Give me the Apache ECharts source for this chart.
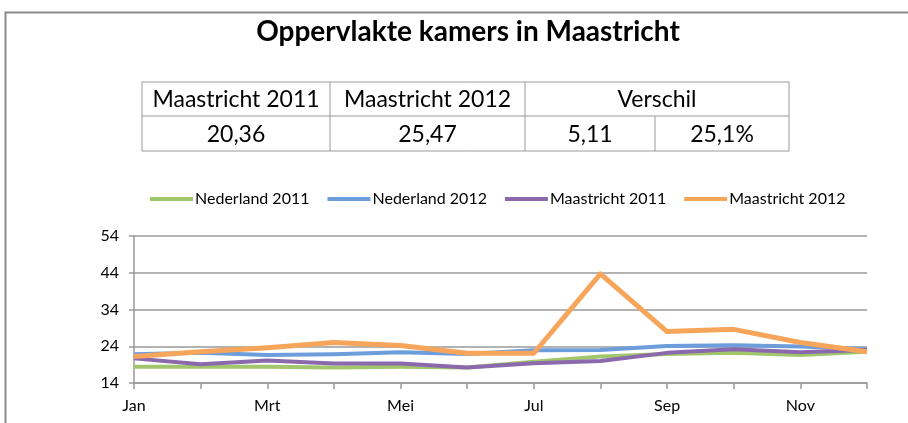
<!DOCTYPE html>
<html>
<head>
<meta charset="utf-8">
<script src="https://cdn.jsdelivr.net/npm/echarts@6/dist/echarts.min.js"></script>
<style>
  html, body { margin: 0; padding: 0; background: #fff; }
  #main { width: 908px; height: 423px; }
</style>
</head>
<body>
<div id="main"></div>
<script>
// months on the x axis
const months = ["Jan", "Feb", "Mrt", "Apr", "Mei", "Jun", "Jul", "Aug", "Sep", "Okt", "Nov", "Dec"];

// average room size (m2) per month
const nederland2011 = [18.4, 18.4, 18.4, 18.2, 18.4, 18.2, 19.8, 21.2, 21.9, 22.2, 21.6, 22.5];
const nederland2012 = [21.8, 22.2, 21.6, 21.8, 22.4, 21.9, 22.9, 23.0, 24.1, 24.3, 23.9, 23.2];
const maastricht2011 = [20.7, 19.1, 20.1, 19.3, 19.3, 18.2, 19.4, 20.0, 22.2, 23.2, 22.4, 23.0];
const maastricht2012 = [21.2, 22.5, 23.6, 25.0, 24.2, 22.1, 22.1, 43.7, 28.0, 28.6, 25.0, 22.5];

// summary table above the chart
const tableHeader = ["Maastricht 2011", "Maastricht 2012", "Verschil"];
const tableValues = ["20,36", "25,47", "5,11", "25,1%"];

const chart = echarts.init(document.getElementById("main"));

const font = "Lato, 'Noto Sans', sans-serif";
const lineCol = "#9a9a9a";

// table geometry
const colX = [142, 330, 525, 655, 789];
const rowY = [82, 116, 151];

const tableEls = [];
// outer box + row line
tableEls.push({
  type: "rect",
  shape: { x: colX[0], y: rowY[0], width: colX[4] - colX[0], height: rowY[2] - rowY[0] },
  style: { fill: "none", stroke: lineCol, lineWidth: 1 },
});
tableEls.push({
  type: "line",
  shape: { x1: colX[0], y1: rowY[1], x2: colX[4], y2: rowY[1] },
  style: { stroke: lineCol, lineWidth: 1 },
});
[1, 2].forEach((i) => {
  tableEls.push({
    type: "line",
    shape: { x1: colX[i], y1: rowY[0], x2: colX[i], y2: rowY[2] },
    style: { stroke: lineCol, lineWidth: 1 },
  });
});
// the split under "Verschil" only in the second row
tableEls.push({
  type: "line",
  shape: { x1: colX[3], y1: rowY[1], x2: colX[3], y2: rowY[2] },
  style: { stroke: lineCol, lineWidth: 1 },
});
// header texts
const headerCenters = [(colX[0] + colX[1]) / 2, (colX[1] + colX[2]) / 2, (colX[2] + colX[4]) / 2];
tableHeader.forEach((t, i) => {
  tableEls.push({
    type: "text",
    x: headerCenters[i],
    y: (rowY[0] + rowY[1]) / 2 + 1,
    style: { text: t, font: "23px " + font, fill: "#000", align: "center", verticalAlign: "middle" },
  });
});
tableValues.forEach((t, i) => {
  tableEls.push({
    type: "text",
    x: (colX[i] + colX[i + 1]) / 2,
    y: (rowY[1] + rowY[2]) / 2 + 1,
    style: { text: t, font: "23px " + font, fill: "#000", align: "center", verticalAlign: "middle" },
  });
});

const mkSeries = (name, data, color, width) => ({
  name: name,
  type: "line",
  data: data,
  showSymbol: false,
  symbol: "none",
  lineStyle: { color: color, width: width, join: "round" },
  itemStyle: { color: color },
  animation: false,
});

const option = {
  animation: false,
  backgroundColor: "#fff",
  title: {
    text: "Oppervlakte kamers in Maastricht",
    left: 463,
    textAlign: "center",
    top: 13,
    textStyle: { fontFamily: font, fontSize: 28, fontWeight: "bold", color: "#000" },
  },
  legend: {
    left: 145,
    top: 186,
    icon: "rect",
    itemWidth: 43,
    itemHeight: 4,
    itemGap: 18,
    textStyle: { fontFamily: font, fontSize: 16, color: "#000", padding: [0, 0, 0, -3] },
    data: ["Nederland 2011", "Nederland 2012", "Maastricht 2011", "Maastricht 2012"],
  },
  grid: { left: 134, right: 41, top: 236, bottom: 40, containLabel: false },
  xAxis: {
    type: "category",
    data: months,
    boundaryGap: false,
    axisLine: { lineStyle: { color: lineCol, width: 1.5 } },
    axisTick: { show: true, interval: 0, length: 6, lineStyle: { color: lineCol, width: 1.5 } },
    axisLabel: { interval: 1, color: "#000", fontFamily: font, fontSize: 16, margin: 15 },
    splitLine: { show: false },
  },
  yAxis: {
    type: "value",
    min: 14,
    max: 54,
    interval: 10,
    axisLine: { show: true, lineStyle: { color: lineCol, width: 1.5 } },
    axisTick: { show: true, length: 5, lineStyle: { color: lineCol, width: 1.5 } },
    axisLabel: { color: "#000", fontFamily: font, fontSize: 16, margin: 15 },
    splitLine: { show: true, lineStyle: { color: lineCol, width: 1.5 } },
  },
  graphic: [
    {
      type: "polyline",
      shape: { points: [[5.5, 430], [5.5, 12.5], [910, 12.5]] },
      style: { fill: "none", stroke: "#8a8a8a", lineWidth: 2 },
    },
  ].concat(tableEls),
  series: [
    mkSeries("Nederland 2011", nederland2011, "#a2c66b", 4),
    mkSeries("Nederland 2012", nederland2012, "#6d9ddb", 4),
    mkSeries("Maastricht 2011", maastricht2011, "#8b69ad", 4),
    mkSeries("Maastricht 2012", maastricht2012, "#f6a55b", 5),
  ],
};

chart.setOption(option);
</script>
</body>
</html>
